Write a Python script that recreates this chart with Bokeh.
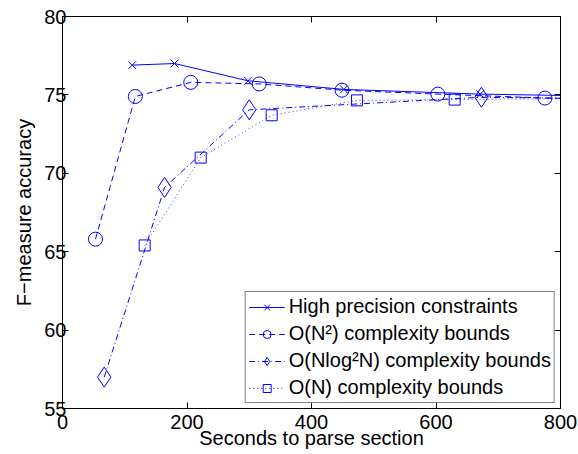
from bokeh.plotting import figure
from bokeh.models import LinearAxis, Range1d, FixedTicker, Legend, LegendItem
from bokeh.embed import file_html
from bokeh.resources import INLINE

# Data
hp_x = [112, 180, 298, 452, 671, 900]
hp_y = [76.9, 77.0, 75.9, 75.35, 75.05, 74.9]

n2_x = [53, 117, 206, 316, 449, 603, 775, 900]
n2_y = [65.8, 74.9, 75.8, 75.7, 75.3, 75.05, 74.8, 74.7]

nlog_x = [67, 164, 300, 673, 900]
nlog_y = [57.0, 69.1, 74.05, 74.85, 74.75]

n_x = [132, 222, 336, 473, 630, 900]
n_y = [65.4, 71.0, 73.7, 74.65, 74.7, 74.8]

labels = ["High precision constraints",
          "O(N²) complexity bounds",
          "O(Nlog²N) complexity bounds",
          "O(N) complexity bounds"]

x_ticks = [0, 200, 400, 600, 800]
y_ticks = [55, 60, 65, 70, 75, 80]

FONT = "Liberation Sans"
BLUE = "#0000ff"

p = figure(width=578, height=454, output_backend="svg", toolbar_location=None,
           x_range=Range1d(0, 800), y_range=Range1d(55, 80),
           min_border_left=62, min_border_right=18, min_border_top=16, min_border_bottom=46)
p.background_fill_color = "white"
p.border_fill_color = "white"
p.outline_line_color = "black"
p.outline_line_width = 1
p.grid.visible = False

for ax in [p.xaxis[0], p.yaxis[0]]:
    ax.major_tick_in = 6
    ax.major_tick_out = 0
    ax.minor_tick_line_color = None
    ax.axis_line_color = "black"
    ax.major_label_text_font = FONT
    ax.major_label_text_font_size = "20px"
    ax.major_label_text_color = "black"
    ax.axis_label_text_font = FONT
    ax.axis_label_text_font_size = "20px"
    ax.axis_label_text_font_style = "normal"
    ax.axis_label_text_color = "black"

p.xaxis[0].ticker = FixedTicker(ticks=x_ticks)
p.yaxis[0].ticker = FixedTicker(ticks=y_ticks)
p.xaxis[0].axis_label = "Seconds to parse section"
p.yaxis[0].axis_label = "F−measure accuracy"
p.xaxis[0].major_label_standoff = 6
p.yaxis[0].major_label_standoff = -4
p.xaxis[0].axis_label_standoff = -5
p.yaxis[0].axis_label_standoff = 6

top = LinearAxis(ticker=FixedTicker(ticks=x_ticks), major_label_text_font_size="1px",
                 major_label_text_color=None,
                 major_tick_in=6, major_tick_out=0, minor_tick_line_color=None,
                 major_label_standoff=0)
right = LinearAxis(ticker=FixedTicker(ticks=y_ticks), major_label_text_font_size="1px",
                   major_label_text_color=None,
                   major_tick_in=6, major_tick_out=0, minor_tick_line_color=None,
                   major_label_standoff=0)
p.add_layout(top, "above")
p.add_layout(right, "right")

l1 = p.line(hp_x, hp_y, line_color=BLUE, line_width=1)
m1 = p.scatter(hp_x, hp_y, marker="x", size=11, line_color=BLUE, line_width=1)

l2 = p.line(n2_x, n2_y, line_color=BLUE, line_width=1, line_dash="6 4")
m2 = p.scatter(n2_x, n2_y, marker="circle", size=14, line_color=BLUE,
               fill_color=None, line_width=1)

l3 = p.line(nlog_x, nlog_y, line_color=BLUE, line_width=1, line_dash="6 3 1 3")
m3 = p.scatter(nlog_x, nlog_y, marker="diamond", size=20, line_color=BLUE,
               fill_color=None, line_width=1)

l4 = p.line(n_x, n_y, line_color=BLUE, line_width=1, line_dash="1 3", line_alpha=0.8)
m4 = p.scatter(n_x, n_y, marker="square", size=11, line_color=BLUE,
               fill_color=None, line_width=1)

legend = Legend(items=[LegendItem(label=labels[0], renderers=[l1, m1]),
                       LegendItem(label=labels[1], renderers=[l2, m2]),
                       LegendItem(label=labels[2], renderers=[l3, m3]),
                       LegendItem(label=labels[3], renderers=[l4, m4])],
                location="bottom_right")
legend.label_text_font = FONT
legend.label_text_font_size = "20px"
legend.label_text_color = "black"
legend.glyph_width = 36
legend.glyph_height = 20
legend.label_height = 20
legend.spacing = 4
legend.padding = 3
legend.margin = 5
legend.label_standoff = 4
legend.border_line_color = "black"
legend.border_line_width = 1
legend.background_fill_color = "white"
legend.background_fill_alpha = 1
p.add_layout(legend)

open("out.html", "w").write(file_html(p, INLINE))
